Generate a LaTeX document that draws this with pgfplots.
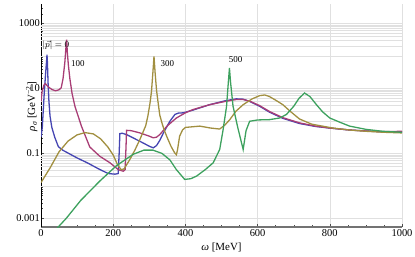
\documentclass[border=0pt]{standalone}
\usepackage{pgfplots}
\pgfplotsset{compat=1.18}
\usepackage{fontspec}
\setmainfont{Liberation Serif}
\definecolor{mblue}{rgb}{0.27,0.27,0.70}
\definecolor{mpurple}{rgb}{0.66,0.24,0.46}
\definecolor{molive}{rgb}{0.63,0.56,0.25}
\definecolor{mgreen}{rgb}{0.24,0.63,0.37}
\definecolor{gridc}{rgb}{0.88,0.88,0.88}
\begin{document}
\begin{tikzpicture}
\begin{axis}[
  at={(0,0)}, anchor=south west,
  scale only axis, width=361bp, height=223bp,
  ymode=log, log basis y=10,
  xmin=0, xmax=1000, ymin=5.4e-4, ymax=4000,
  axis x line*=bottom, axis y line*=left,
  x axis line style={-, line width=1.1pt, color=black!55},
  y axis line style={-, line width=0.5pt, color=black},
  xtick={0,200,400,600,800,1000},
  xticklabels={0,200,400,600,800,1000},
  minor xtick={50,100,150,250,300,350,450,500,550,650,700,750,850,900,950},
  ytick={0.001,0.1,10,1000},
  yticklabels={0.001,0.1,10,1000},
  minor ytick={0.002,0.003,0.004,0.005,0.006,0.007,0.008,0.009,0.01,0.02,0.03,0.04,0.05,0.06,0.07,0.08,0.09,0.2,0.3,0.4,0.5,0.6,0.7,0.8,0.9,1,2,3,4,5,6,7,8,9,20,30,40,50,60,70,80,90,100,200,300,400,500,600,700,800,900,2000,3000},
  extra y ticks={0.01,0.02,0.03,0.04,0.05,0.06,0.07,0.08,0.09,1,2,3,4,5,6,7,8,9,100,200,300,400,500,600,700,800,900},
  extra y tick labels={},
  extra y tick style={major tick length=0pt, ymajorgrids=true, grid style={gridc, line width=0.5pt}},
  xmajorgrids=true, ymajorgrids=true,
  grid style={gridc, line width=0.5pt},
  tick align=inside,
  major tick length=3.5bp, minor tick length=2bp,
  tick style={black!70, line width=0.4pt},
  every tick label/.append style={font=\fontsize{10.5}{12}\selectfont},
  /pgf/number format/assume math mode=true,
  yticklabel style={inner sep=1pt},
  xticklabel style={inner sep=2pt},
  xlabel={{\itshape ω} [MeV]},
  ylabel={{\itshape ρ}\textsubscript{\itshape σ} [GeV\textsuperscript{−2}]},
  label style={font=\fontsize{11}{12}\selectfont},
  xlabel style={at={(axis description cs:0.5,0)}, anchor=north, yshift=-12bp},
  ylabel style={at={(axis description cs:0,0.54)}, anchor=south, xshift=0bp},
  clip=true,
]
% blue |p|=0
\addplot[mblue, line width=1.3pt] coordinates {
(0,0.316) (3.6,0.631) (9,7.24) (13,31.6) (15.5,70.8) (16.6,110) (17.8,63.1) (19.5,15.8) (22,3.98) (25,1.41) (30,0.631) (38,0.316) (48,0.162) (60,0.126) (80,0.0955) (100,0.0724) (130,0.0501) (160,0.0331) (186,0.0240) (205,0.0229) (214,0.0240) (216.5,0.1) (218.5,0.407) (225,0.417) (237,0.380) (260,0.282) (283,0.209) (300,0.166) (311,0.148) (320,0.174) (329,0.251) (340,0.447) (357,0.977) (371,1.585) (380,1.738) (394,1.778) (420,2.138) (467,3.162) (510,4.169) (541,4.786) (560,4.677) (578,3.981) (606,2.818) (633,1.862) (670,1.202) (716,0.832) (760,0.676) (800,0.603) (855,0.525) (900,0.490) (950,0.457) (1000,0.447)
};
% purple 100
\addplot[mpurple, line width=1.3pt] coordinates {
(0,3.98) (3,7.94) (8,12.6) (12,14.1) (20,11.2) (30,9.33) (40,8.51) (50,9.12) (56,10.5) (61,20.0) (66,63.1) (69,178) (71,316) (73,126) (76,50.1) (80,20.0) (86,7.08) (94,2.82) (112,0.692) (135,0.158) (163,0.0813) (191,0.0513) (214,0.0316) (228,0.0282) (233,0.0316) (235.5,0.158) (237,0.513) (250,0.501) (274,0.427) (300,0.339) (311,0.302) (320,0.316) (329,0.380) (350,0.708) (375,1.230) (400,1.778) (421,2.239) (467,3.162) (510,3.981) (541,4.571) (560,4.571) (580,3.981) (606,2.951) (633,1.950) (670,1.259) (716,0.871) (760,0.692) (800,0.603) (855,0.525) (900,0.490) (950,0.468) (1000,0.479)
};
% olive 300
\addplot[molive, line width=1.3pt] coordinates {
(0,0.0126) (10,0.0191) (25,0.0355) (50,0.112) (75,0.240) (100,0.372) (122,0.437) (145,0.398) (165,0.282) (185,0.158) (200,0.0891) (212,0.0447) (222,0.0316) (230,0.0331) (246,0.0646) (260,0.126) (274,0.269) (290,0.708) (296,1.413) (302,3.548) (306,7.943) (310,31.62) (313,97.7) (316,31.62) (320,8.913) (324,3.981) (329,1.514) (336,0.794) (342,0.501) (348,0.339) (360,0.166) (370,0.105) (375,0.0912) (378,0.126) (384,0.339) (392,0.525) (400,0.631) (440,0.692) (470,0.603) (495,0.562) (510,0.759) (523,1.096) (540,1.995) (560,3.162) (585,4.786) (606,6.026) (620,6.310) (633,5.623) (650,4.365) (670,3.162) (690,1.995) (716,1.148) (750,0.794) (809,0.603) (855,0.525) (900,0.479) (950,0.447) (1000,0.427)
};
% green 500
\addplot[mgreen, line width=1.3pt] coordinates {
(45,0.000501) (70,0.001) (110,0.00355) (163,0.0141) (209,0.0417) (255,0.0933) (285,0.126) (310,0.126) (335,0.1) (357,0.0631) (375,0.0316) (398,0.0158) (415,0.0166) (431,0.0200) (455,0.0316) (477,0.0513) (495,0.132) (504,0.501) (514,2.818) (519,15.85) (522,42.66) (525,15.85) (532,2.818) (545,0.631) (560,0.132) (568,0.501) (578,0.977) (600,1.072) (633,1.096) (661,1.230) (680,1.585) (700,2.818) (715,5.012) (730,7.244) (745,5.623) (763,3.162) (780,1.905) (800,1.230) (830,0.891) (855,0.692) (900,0.550) (947,0.479) (1000,0.447)
};
\node[anchor=west, inner sep=0pt, font=\fontsize{9}{10}\selectfont] at (axis cs:4,210) {$|\vec{p}|=0$};
\node[inner sep=0pt, font=\fontsize{9}{10}\selectfont] at (axis cs:102,59) {100};
\node[inner sep=0pt, font=\fontsize{9}{10}\selectfont] at (axis cs:350,59) {300};
\node[inner sep=0pt, font=\fontsize{9}{10}\selectfont] at (axis cs:539,75) {500};
\end{axis}
\pgfresetboundingbox
\path[use as bounding box] (-41bp,-30bp) rectangle (374bp,227bp);
\end{tikzpicture}
\end{document}
